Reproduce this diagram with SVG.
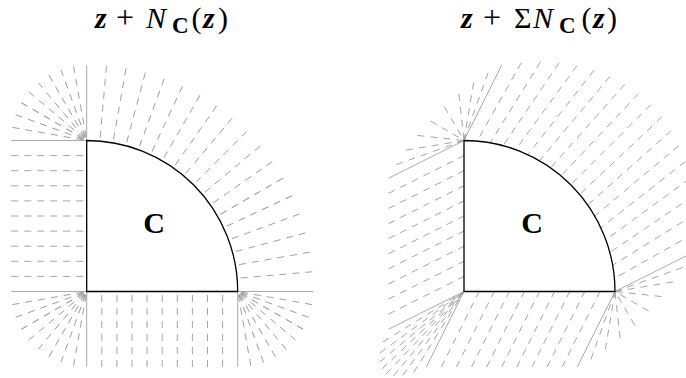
<svg xmlns="http://www.w3.org/2000/svg" width="686" height="378" viewBox="0 0 686 378">
<style>
.d{stroke:#9a9a9a;stroke-width:0.9;stroke-dasharray:7 6;fill:none}
.s{stroke:#a0a0a0;stroke-width:0.9;fill:none}
.k{stroke:#000;stroke-width:1.3;fill:#fff;stroke-linejoin:miter}
.t{font-family:"Liberation Serif","Times New Roman",serif;font-size:30px;fill:#000}
.bi{font-weight:bold;font-style:italic}
.it{font-style:italic}
.b{font-weight:bold}
.lbl{font-family:"Liberation Serif","Times New Roman",serif;font-size:30px;font-weight:bold;fill:#000;text-anchor:middle}
</style>
<defs>
<line id="ar" class="d" x1="226.5" y1="0" x2="151" y2="0"/>
<line id="fr" class="d" x1="75.5" y1="0" x2="0" y2="0"/>
</defs>
<rect width="686" height="378" fill="#fff"/>

<g id="title-left">
<text class="t" y="28"><tspan class="bi" x="95">z</tspan><tspan x="116" font-size="32">+</tspan><tspan class="it" x="146">N</tspan><tspan class="b" x="172" dy="5" font-size="23">C</tspan><tspan x="191.5" dy="-5">(</tspan><tspan class="bi" x="203">z</tspan><tspan x="218">)</tspan></text>
</g>
<g id="title-right">
<text class="t" y="28"><tspan class="bi" x="461">z</tspan><tspan x="483" font-size="32">+</tspan><tspan x="514">Σ</tspan><tspan class="it" x="533">N</tspan><tspan class="b" x="559" dy="5" font-size="23">C</tspan><tspan x="581.5" dy="-5">(</tspan><tspan class="bi" x="593">z</tspan><tspan x="607">)</tspan></text>
</g>

<g id="connectors">
<!-- LEFT FIGURE -->
<g id="left-arc-rays">
<use href="#ar" transform="translate(86.7,291.5) rotate(-5)"/>
<use href="#ar" transform="translate(86.7,291.5) rotate(-10)"/>
<use href="#ar" transform="translate(86.7,291.5) rotate(-15)"/>
<use href="#ar" transform="translate(86.7,291.5) rotate(-20)"/>
<use href="#ar" transform="translate(86.7,291.5) rotate(-25)"/>
<use href="#ar" transform="translate(86.7,291.5) rotate(-30)"/>
<use href="#ar" transform="translate(86.7,291.5) rotate(-35)"/>
<use href="#ar" transform="translate(86.7,291.5) rotate(-40)"/>
<use href="#ar" transform="translate(86.7,291.5) rotate(-45)"/>
<use href="#ar" transform="translate(86.7,291.5) rotate(-50)"/>
<use href="#ar" transform="translate(86.7,291.5) rotate(-55)"/>
<use href="#ar" transform="translate(86.7,291.5) rotate(-60)"/>
<use href="#ar" transform="translate(86.7,291.5) rotate(-65)"/>
<use href="#ar" transform="translate(86.7,291.5) rotate(-70)"/>
<use href="#ar" transform="translate(86.7,291.5) rotate(-75)"/>
<use href="#ar" transform="translate(86.7,291.5) rotate(-80)"/>
<use href="#ar" transform="translate(86.7,291.5) rotate(-85)"/>
</g>
<g id="left-edge-rays">
<line class="d" x1="11.2" y1="155.6" x2="86.7" y2="155.6"/>
<line class="d" x1="11.2" y1="170.7" x2="86.7" y2="170.7"/>
<line class="d" x1="11.2" y1="185.8" x2="86.7" y2="185.8"/>
<line class="d" x1="11.2" y1="200.9" x2="86.7" y2="200.9"/>
<line class="d" x1="11.2" y1="216" x2="86.7" y2="216"/>
<line class="d" x1="11.2" y1="231.1" x2="86.7" y2="231.1"/>
<line class="d" x1="11.2" y1="246.2" x2="86.7" y2="246.2"/>
<line class="d" x1="11.2" y1="261.3" x2="86.7" y2="261.3"/>
<line class="d" x1="11.2" y1="276.4" x2="86.7" y2="276.4"/>
<line class="d" x1="101.8" y1="367" x2="101.8" y2="291.5"/>
<line class="d" x1="116.9" y1="367" x2="116.9" y2="291.5"/>
<line class="d" x1="132" y1="367" x2="132" y2="291.5"/>
<line class="d" x1="147.1" y1="367" x2="147.1" y2="291.5"/>
<line class="d" x1="162.2" y1="367" x2="162.2" y2="291.5"/>
<line class="d" x1="177.3" y1="367" x2="177.3" y2="291.5"/>
<line class="d" x1="192.4" y1="367" x2="192.4" y2="291.5"/>
<line class="d" x1="207.5" y1="367" x2="207.5" y2="291.5"/>
<line class="d" x1="222.6" y1="367" x2="222.6" y2="291.5"/>
</g>
<g id="left-fans">
<use href="#fr" transform="translate(86.7,140.5) rotate(-100)"/>
<use href="#fr" transform="translate(86.7,140.5) rotate(-110)"/>
<use href="#fr" transform="translate(86.7,140.5) rotate(-120)"/>
<use href="#fr" transform="translate(86.7,140.5) rotate(-130)"/>
<use href="#fr" transform="translate(86.7,140.5) rotate(-140)"/>
<use href="#fr" transform="translate(86.7,140.5) rotate(-150)"/>
<use href="#fr" transform="translate(86.7,140.5) rotate(-160)"/>
<use href="#fr" transform="translate(86.7,140.5) rotate(-170)"/>
<use href="#fr" transform="translate(86.7,291.5) rotate(-190)"/>
<use href="#fr" transform="translate(86.7,291.5) rotate(-200)"/>
<use href="#fr" transform="translate(86.7,291.5) rotate(-210)"/>
<use href="#fr" transform="translate(86.7,291.5) rotate(-220)"/>
<use href="#fr" transform="translate(86.7,291.5) rotate(-230)"/>
<use href="#fr" transform="translate(86.7,291.5) rotate(-240)"/>
<use href="#fr" transform="translate(86.7,291.5) rotate(-250)"/>
<use href="#fr" transform="translate(86.7,291.5) rotate(-260)"/>
<use href="#fr" transform="translate(237.7,291.5) rotate(-280)"/>
<use href="#fr" transform="translate(237.7,291.5) rotate(-290)"/>
<use href="#fr" transform="translate(237.7,291.5) rotate(-300)"/>
<use href="#fr" transform="translate(237.7,291.5) rotate(-310)"/>
<use href="#fr" transform="translate(237.7,291.5) rotate(-320)"/>
<use href="#fr" transform="translate(237.7,291.5) rotate(-330)"/>
<use href="#fr" transform="translate(237.7,291.5) rotate(-340)"/>
<use href="#fr" transform="translate(237.7,291.5) rotate(-350)"/>
</g>
<g id="left-cone-edges">
<line class="s" x1="11.2" y1="140.5" x2="86.7" y2="140.5"/>
<line class="s" x1="86.7" y1="65" x2="86.7" y2="140.5"/>
<line class="s" x1="11.2" y1="291.5" x2="86.7" y2="291.5"/>
<line class="s" x1="86.7" y1="291.5" x2="86.7" y2="367"/>
<line class="s" x1="237.7" y1="291.5" x2="313.2" y2="291.5"/>
<line class="s" x1="237.7" y1="291.5" x2="237.7" y2="367"/>
</g>

<!-- RIGHT FIGURE -->
<g id="right-arc-rays">
<line class="d" x1="692.92" y1="234.15" x2="614.42" y2="278.34"/>
<line class="d" x1="693.62" y1="214.99" x2="612.71" y2="265.28"/>
<line class="d" x1="692.56" y1="196.42" x2="609.86" y2="252.42"/>
<line class="d" x1="689.75" y1="178.55" x2="605.89" y2="239.85"/>
<line class="d" x1="685.23" y1="161.56" x2="600.85" y2="227.68"/>
<line class="d" x1="679.03" y1="145.56" x2="594.77" y2="216"/>
<line class="d" x1="671.19" y1="130.66" x2="587.69" y2="204.89"/>
<line class="d" x1="661.77" y1="116.99" x2="579.67" y2="194.44"/>
<line class="d" x1="650.85" y1="104.65" x2="570.77" y2="184.73"/>
<line class="d" x1="638.51" y1="93.73" x2="561.06" y2="175.83"/>
<line class="d" x1="624.84" y1="84.31" x2="550.61" y2="167.81"/>
<line class="d" x1="609.94" y1="76.47" x2="539.5" y2="160.73"/>
<line class="d" x1="593.94" y1="70.27" x2="527.82" y2="154.65"/>
<line class="d" x1="576.95" y1="65.75" x2="515.65" y2="149.61"/>
<line class="d" x1="559.08" y1="62.94" x2="503.08" y2="145.64"/>
<line class="d" x1="540.51" y1="61.88" x2="490.22" y2="142.79"/>
<line class="d" x1="521.35" y1="62.58" x2="477.16" y2="141.08"/>
</g>
<g id="right-edge-rays">
<line class="d" x1="388.5" y1="193.35" x2="464" y2="155.6"/>
<line class="d" x1="388.5" y1="208.45" x2="464" y2="170.7"/>
<line class="d" x1="388.5" y1="223.55" x2="464" y2="185.8"/>
<line class="d" x1="388.5" y1="238.65" x2="464" y2="200.9"/>
<line class="d" x1="388.5" y1="253.75" x2="464" y2="216"/>
<line class="d" x1="388.5" y1="268.85" x2="464" y2="231.1"/>
<line class="d" x1="388.5" y1="283.95" x2="464" y2="246.2"/>
<line class="d" x1="388.5" y1="299.05" x2="464" y2="261.3"/>
<line class="d" x1="388.5" y1="314.15" x2="464" y2="276.4"/>
<line class="d" x1="441.35" y1="367" x2="479.1" y2="291.5"/>
<line class="d" x1="456.45" y1="367" x2="494.2" y2="291.5"/>
<line class="d" x1="471.55" y1="367" x2="509.3" y2="291.5"/>
<line class="d" x1="486.65" y1="367" x2="524.4" y2="291.5"/>
<line class="d" x1="501.75" y1="367" x2="539.5" y2="291.5"/>
<line class="d" x1="516.85" y1="367" x2="554.6" y2="291.5"/>
<line class="d" x1="531.95" y1="367" x2="569.7" y2="291.5"/>
<line class="d" x1="547.05" y1="367" x2="584.8" y2="291.5"/>
<line class="d" x1="562.15" y1="367" x2="599.9" y2="291.5"/>
</g>
<g id="right-fans">
<line class="d" x1="488.07" y1="72.7" x2="464" y2="140.5"/>
<line class="d" x1="473.65" y1="82.46" x2="464" y2="140.5"/>
<line class="d" x1="458.94" y1="93.99" x2="464" y2="140.5"/>
<line class="d" x1="444.39" y1="106.93" x2="464" y2="140.5"/>
<line class="d" x1="430.43" y1="120.89" x2="464" y2="140.5"/>
<line class="d" x1="417.49" y1="135.44" x2="464" y2="140.5"/>
<line class="d" x1="405.96" y1="150.15" x2="464" y2="140.5"/>
<line class="d" x1="396.2" y1="164.57" x2="464" y2="140.5"/>
<line class="d" x1="383.09" y1="341.79" x2="464" y2="291.5"/>
<line class="d" x1="380.14" y1="352.8" x2="464" y2="291.5"/>
<line class="d" x1="379.74" y1="361.94" x2="464" y2="291.5"/>
<line class="d" x1="381.9" y1="368.95" x2="464" y2="291.5"/>
<line class="d" x1="386.55" y1="373.6" x2="464" y2="291.5"/>
<line class="d" x1="393.56" y1="375.76" x2="464" y2="291.5"/>
<line class="d" x1="402.7" y1="375.36" x2="464" y2="291.5"/>
<line class="d" x1="413.71" y1="372.41" x2="464" y2="291.5"/>
<line class="d" x1="590.93" y1="359.3" x2="615" y2="291.5"/>
<line class="d" x1="605.35" y1="349.54" x2="615" y2="291.5"/>
<line class="d" x1="620.06" y1="338.01" x2="615" y2="291.5"/>
<line class="d" x1="634.61" y1="325.07" x2="615" y2="291.5"/>
<line class="d" x1="648.57" y1="311.11" x2="615" y2="291.5"/>
<line class="d" x1="661.51" y1="296.56" x2="615" y2="291.5"/>
<line class="d" x1="673.04" y1="281.85" x2="615" y2="291.5"/>
<line class="d" x1="682.8" y1="267.43" x2="615" y2="291.5"/>
</g>
<g id="right-cone-edges">
<line class="s" x1="464" y1="140.5" x2="501.75" y2="65"/>
<line class="s" x1="464" y1="140.5" x2="388.5" y2="178.25"/>
<line class="s" x1="464" y1="291.5" x2="388.5" y2="329.25"/>
<line class="s" x1="464" y1="291.5" x2="426.25" y2="367"/>
<line class="s" x1="615" y1="291.5" x2="690.5" y2="253.75"/>
<line class="s" x1="615" y1="291.5" x2="577.25" y2="367"/>
</g>
</g>

<g id="set-left">
<path class="k" d="M86.7,291.5 V140.5 A151,151 0 0 1 237.7,291.5 Z"/>
<text class="lbl" x="154" y="233">C</text>
</g>
<g id="set-right">
<path class="k" d="M464,291.5 V140.5 A151,151 0 0 1 615,291.5 Z"/>
<text class="lbl" x="532" y="233">C</text>
</g>
</svg>
